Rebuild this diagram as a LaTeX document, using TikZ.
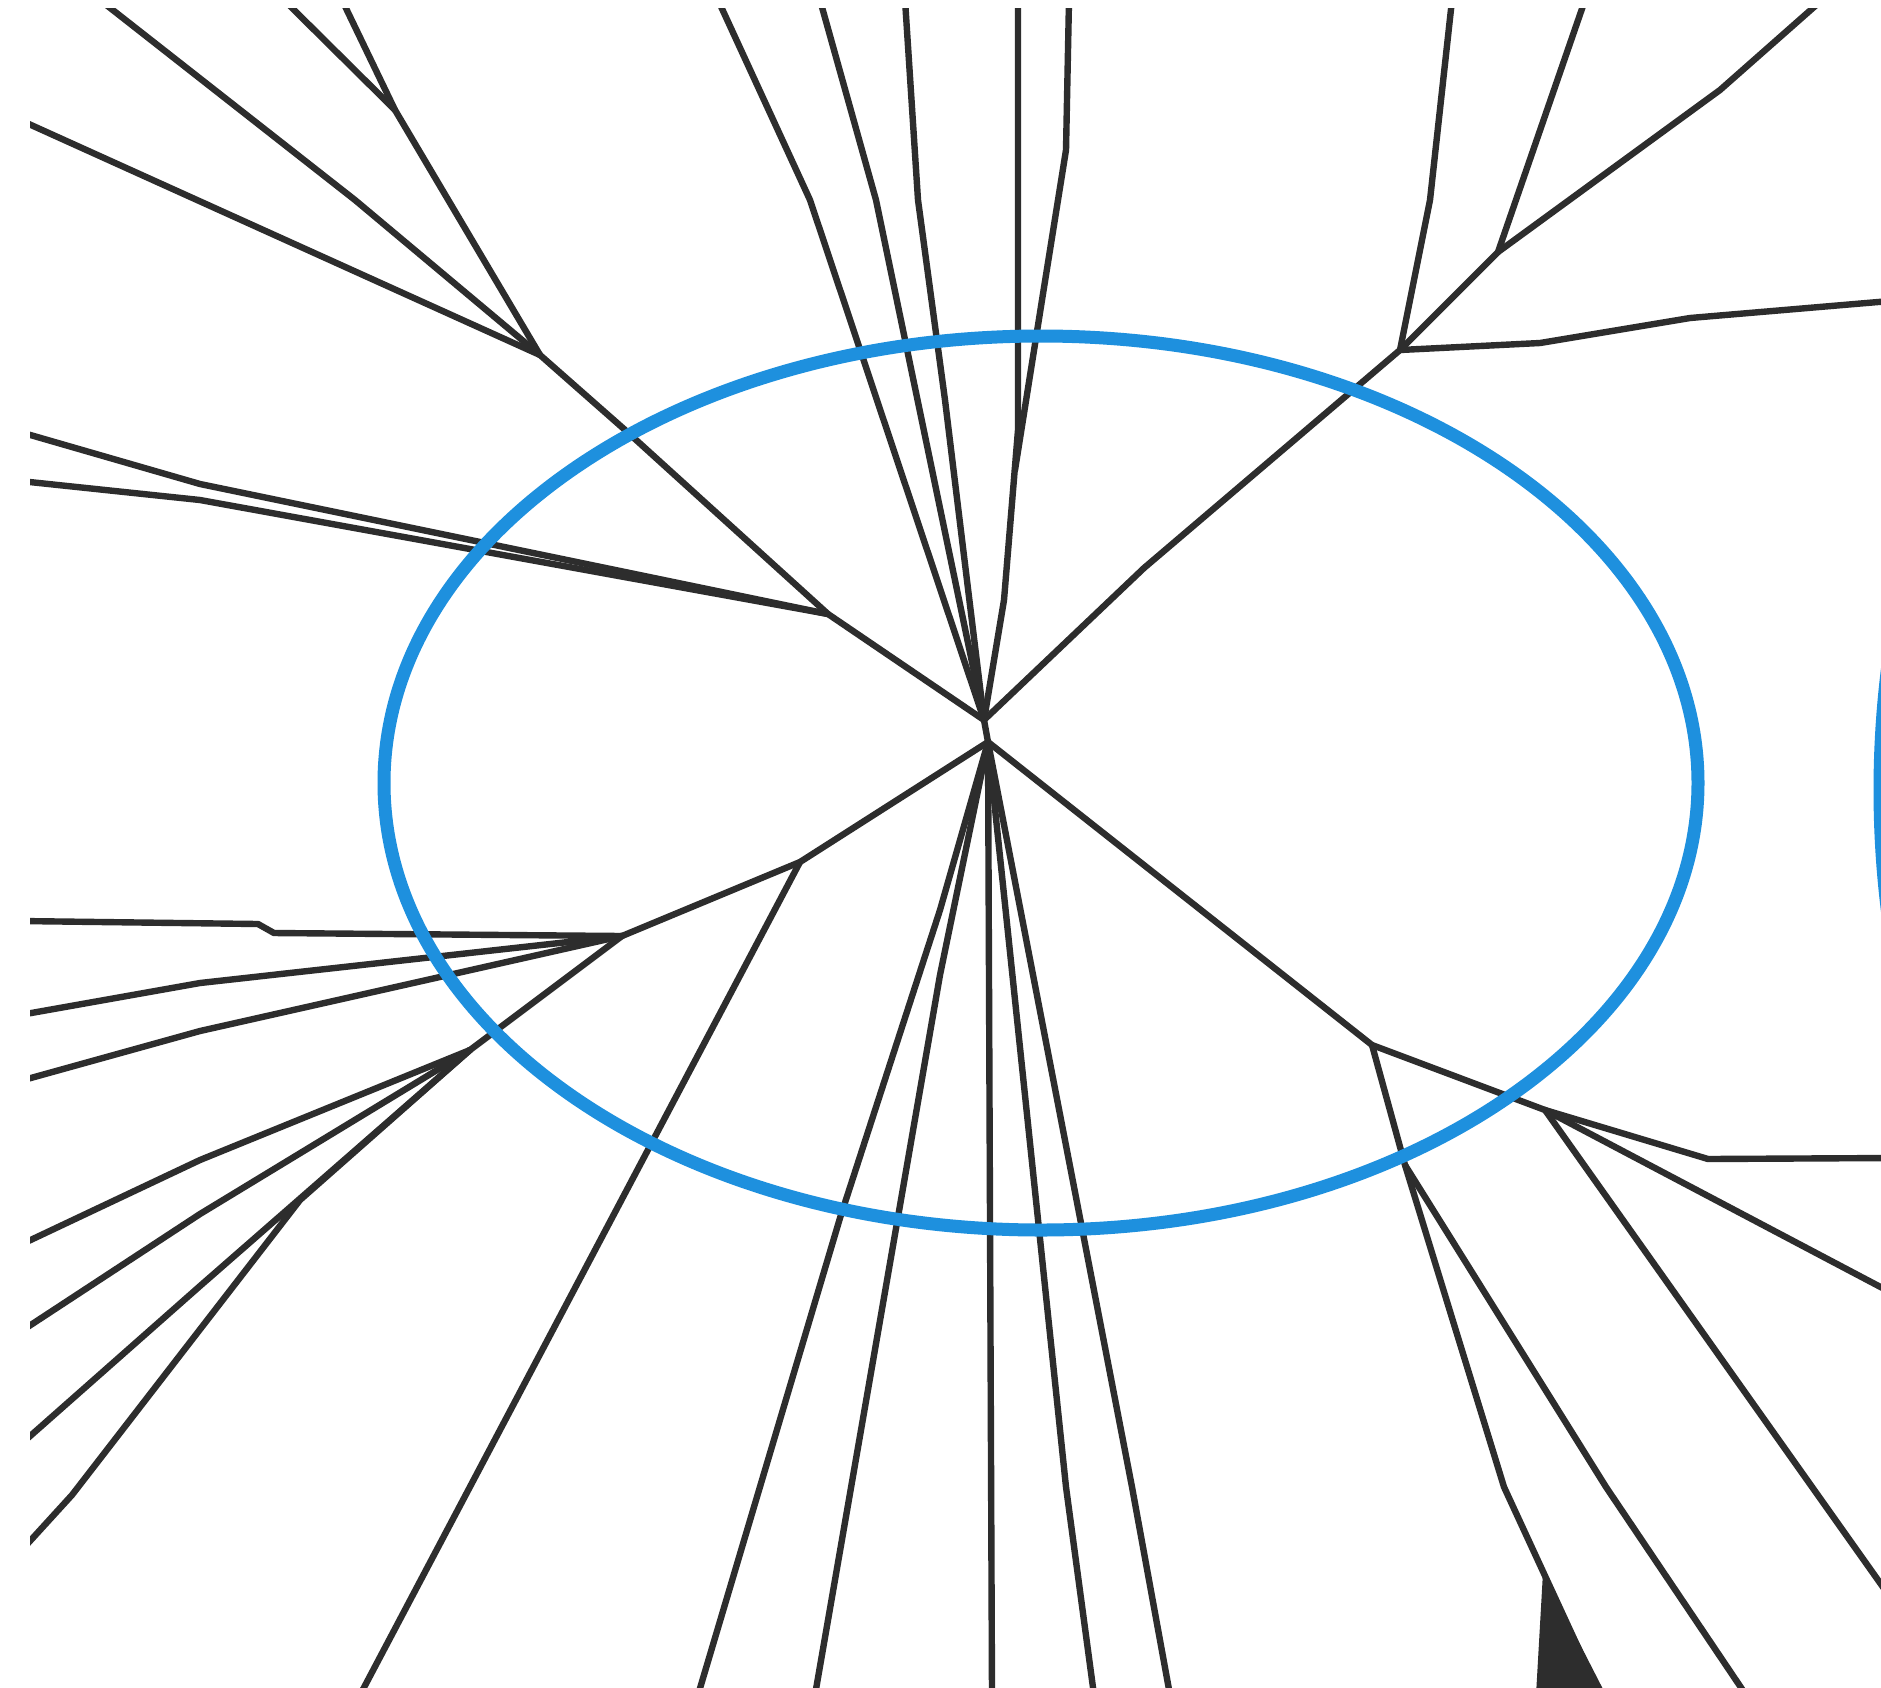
\documentclass[tikz,border=0pt]{standalone}
\definecolor{ringblue}{RGB}{30,144,222}
\definecolor{inkgray}{RGB}{45,45,45}
\begin{document}
\begin{tikzpicture}[x=1pt,y=-1pt,
  ray/.style={draw=inkgray, line width=6.4pt, line join=round, line cap=round},
  ring/.style={draw=ringblue, line width=13pt}]
\useasboundingbox (0,0) rectangle (1881,1687);
\fill[white] (0,0) rectangle (1881,1687);
\begin{scope}
\clip (30,8) rectangle (1881,1687);
% junctions
\coordinate (Hu) at (984,720);
\coordinate (Hl) at (988,742);
\coordinate (J1) at (540,355);
\coordinate (M1) at (395,110);
\coordinate (J2) at (828,614);
\coordinate (J3) at (1400,350);
\coordinate (J4) at (1498,252);
\coordinate (J5) at (470,1050);
\coordinate (J6) at (622,936);
\coordinate (J7) at (800,862);
\coordinate (J8) at (1545,1110);
\coordinate (J9) at (1372,1045);
\coordinate (J10) at (1405,1165);
% edge ends
\coordinate (T1) at (20,120);
\coordinate (T2) at (100,0);
\coordinate (T3) at (284,0);
\coordinate (T4) at (342,0);
\coordinate (L1) at (20,432);
\coordinate (L2) at (20,481);
\coordinate (U1) at (718,0);
\coordinate (U2) at (820,0);
\coordinate (U3) at (905,0);
\coordinate (U4) at (1018,0);
\coordinate (U5) at (1069,0);
\coordinate (R1) at (1452,0);
\coordinate (R2) at (1585,0);
\coordinate (R3) at (1822,0);
\coordinate (E1) at (1890,301);
\coordinate (H1) at (20,921);
\coordinate (H2) at (20,1015);
\coordinate (H3) at (20,1081);
\coordinate (F1) at (20,1245);
\coordinate (F2) at (20,1332);
\coordinate (F3) at (20,1445);
\coordinate (F4) at (20,1552);
\coordinate (B1) at (360,1695);
\coordinate (B2) at (698,1695);
\coordinate (B3) at (815,1695);
\coordinate (B4) at (992,1695);
\coordinate (B5) at (1094,1695);
\coordinate (B6) at (1170,1695);
\coordinate (B7) at (1600,1695);
\coordinate (B8) at (1746,1695);
\coordinate (E2) at (1890,1158);
\coordinate (E3) at (1890,1292);
\coordinate (E4) at (1890,1597);
% top-left fan
\draw[ray] (T1) -- (J1);
\draw[ray] (T2) -- (355,200) -- (J1);
\draw[ray] (T3) -- (M1);
\draw[ray] (T4) -- (M1);
\draw[ray] (M1) -- (J1);
\draw[ray] (J1) -- (624,429) -- (J2) -- (Hu);
\draw[ray] (L1) -- (200,484) -- (J2);
\draw[ray] (L2) -- (200,500) -- (J2);
% top centre
\draw[ray] (U1) -- (810,200) -- (Hu);
\draw[ray] (U2) -- (876,200) -- (Hu);
\draw[ray] (U3) -- (918,200) -- (945,400) -- (Hu);
\draw[ray] (U4) -- (1018,430) -- (1004,600) -- (Hu);
\draw[ray] (U5) -- (1066,150) -- (1042,300) -- (1015,470);
% top right
\draw[ray] (R1) -- (1430,200) -- (J3);
\draw[ray] (R2) -- (J4);
\draw[ray] (R3) -- (1720,90) -- (J4);
\draw[ray] (J4) -- (J3);
\draw[ray] (J3) -- (1540,343) -- (1690,318) -- (E1);
\draw[ray] (J3) -- (1144,568) -- (Hu);
\draw[ray] (Hu) -- (Hl);
% left lower
\draw[ray] (H1) -- (258,924) -- (274,933) -- (J6);
\draw[ray] (H2) -- (200,983) -- (J6);
\draw[ray] (H3) -- (200,1031) -- (J6);
\draw[ray] (F1) -- (200,1160) -- (J5);
\draw[ray] (F2) -- (200,1214) -- (J5);
\draw[ray] (F3) -- (200,1286) -- (J5);
\draw[ray] (F4) -- (72,1495) -- (300,1200) -- (J5);
\draw[ray] (J5) -- (J6) -- (J7) -- (Hl);
\draw[ray] (J7) -- (B1);
% hub downward
\draw[ray] (Hl) -- (940,910) -- (840,1218) -- (B2);
\draw[ray] (Hl) -- (940,975) -- (B3);
\draw[ray] (Hl) -- (B4);
\draw[ray] (Hl) -- (1066,1487) -- (B5);
\draw[ray] (Hl) -- (1132,1487) -- (B6);
\draw[ray] (Hl) -- (J9) -- (J8);
\draw[ray] (J8) -- (1708,1159) -- (E2);
\draw[ray] (J8) -- (E3);
\draw[ray] (J8) -- (E4);
\draw[ray] (J9) -- (J10);
\draw[ray] (J10) -- (1504,1487) -- (B7);
\draw[ray] (J10) -- (1606,1487) -- (B8);
\fill[inkgray] (1543,1572) -- (1536,1695) -- (1606,1695) -- cycle;
% rings
\draw[ring] (1041,783) ellipse [x radius=657, y radius=447];
\draw[ring] (2380,790) ellipse [x radius=500, y radius=700];
\end{scope}
\end{tikzpicture}
\end{document}
